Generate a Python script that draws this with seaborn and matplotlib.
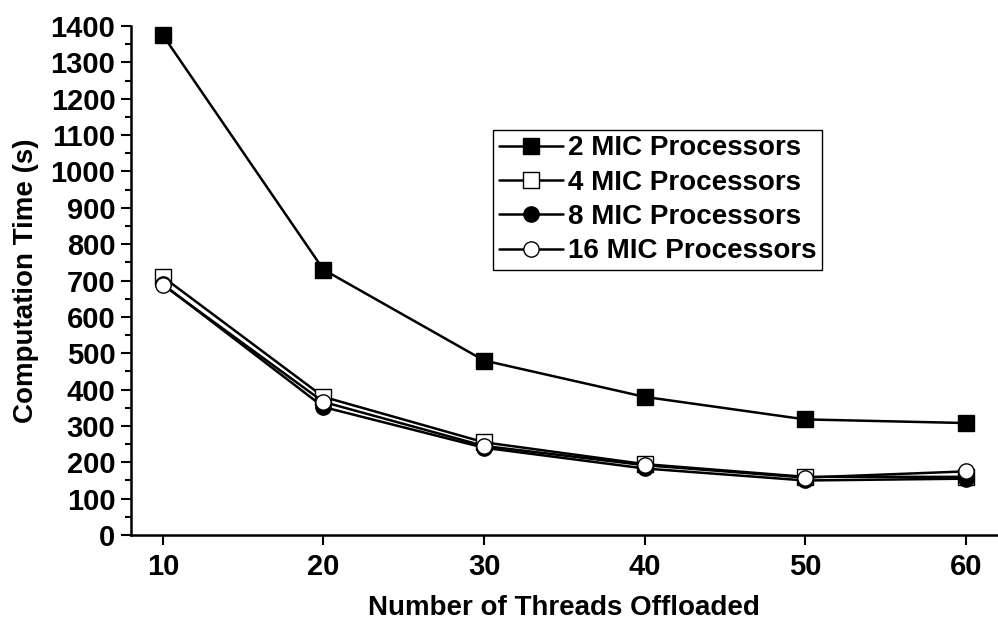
import numpy as np
import pandas as pd
import matplotlib
matplotlib.use("Agg")
import matplotlib.pyplot as plt
from matplotlib.ticker import MultipleLocator
import seaborn as sns

# =========================================
# DATA
# =========================================

threads = [10, 20, 30, 40, 50, 60]

mic2 = [1375, 730, 480, 380, 318, 308]
mic4 = [710, 380, 255, 195, 160, 160]
mic8 = [690, 352, 240, 183, 150, 155]
mic16 = [688, 366, 245, 192, 158, 175]

labels = [
    "2 MIC Processors",
    "4 MIC Processors",
    "8 MIC Processors",
    "16 MIC Processors",
]

# =========================================
# STYLE
# =========================================

sns.set_style("ticks")
plt.rcParams["font.family"] = ["Liberation Sans", "DejaVu Sans"]
plt.rcParams["font.weight"] = "bold"
plt.rcParams["text.color"] = "black"
plt.rcParams["axes.labelcolor"] = "black"
plt.rcParams["axes.edgecolor"] = "black"
plt.rcParams["xtick.color"] = "black"
plt.rcParams["ytick.color"] = "black"

df = pd.DataFrame({
    "threads": threads * 4,
    "time": mic2 + mic4 + mic8 + mic16,
    "series": np.repeat(labels, len(threads)),
})

markers = ["s", "s", "o", "o"]
faces = ["black", "white", "black", "white"]

fig = plt.figure(figsize=(9.98, 6.24), dpi=100)
ax = fig.add_axes([0.131, 0.1426, 0.869, 0.8157])

for lab, mk, fc in zip(labels, markers, faces):
    sns.lineplot(
        data=df[df["series"] == lab],
        x="threads",
        y="time",
        ax=ax,
        color="black",
        linewidth=1.8,
        marker=mk,
        markersize=11,
        markerfacecolor=fc,
        markeredgecolor="black",
        markeredgewidth=1.0,
        label=lab,
    )

ax.set_xlim(8, 62)
ax.set_ylim(0, 1400)
ax.set_xticks(threads)
ax.yaxis.set_major_locator(MultipleLocator(100))
ax.yaxis.set_minor_locator(MultipleLocator(50))

ax.tick_params(axis="both", which="major", direction="out", length=7,
               width=1.5, labelsize=21, pad=4)
ax.tick_params(axis="x", which="major", pad=6)
ax.tick_params(axis="y", which="minor", direction="out", length=4, width=1.5)

for t in ax.get_xticklabels() + ax.get_yticklabels():
    t.set_fontweight("bold")

ax.spines["top"].set_visible(False)
ax.spines["right"].set_visible(False)
ax.spines["left"].set_linewidth(1.8)
ax.spines["bottom"].set_linewidth(1.8)

ax.set_xlabel("Number of Threads Offloaded", fontsize=20,
              fontweight="bold", labelpad=10)
ax.set_ylabel("Computation Time (s)", fontsize=20,
              fontweight="bold", labelpad=8)

leg = ax.legend(
    loc="upper left",
    bbox_to_anchor=(0.418, 0.796),
    borderaxespad=0,
    frameon=True,
    fancybox=False,
    edgecolor="black",
    prop={"size": 20, "weight": "bold"},
    handlelength=2.3,
    handletextpad=0.2,
    labelspacing=0.3,
    borderpad=0.2,
)
leg.get_frame().set_linewidth(1.0)
leg.get_frame().set_alpha(1)

fig.savefig("out.png", dpi=100)
